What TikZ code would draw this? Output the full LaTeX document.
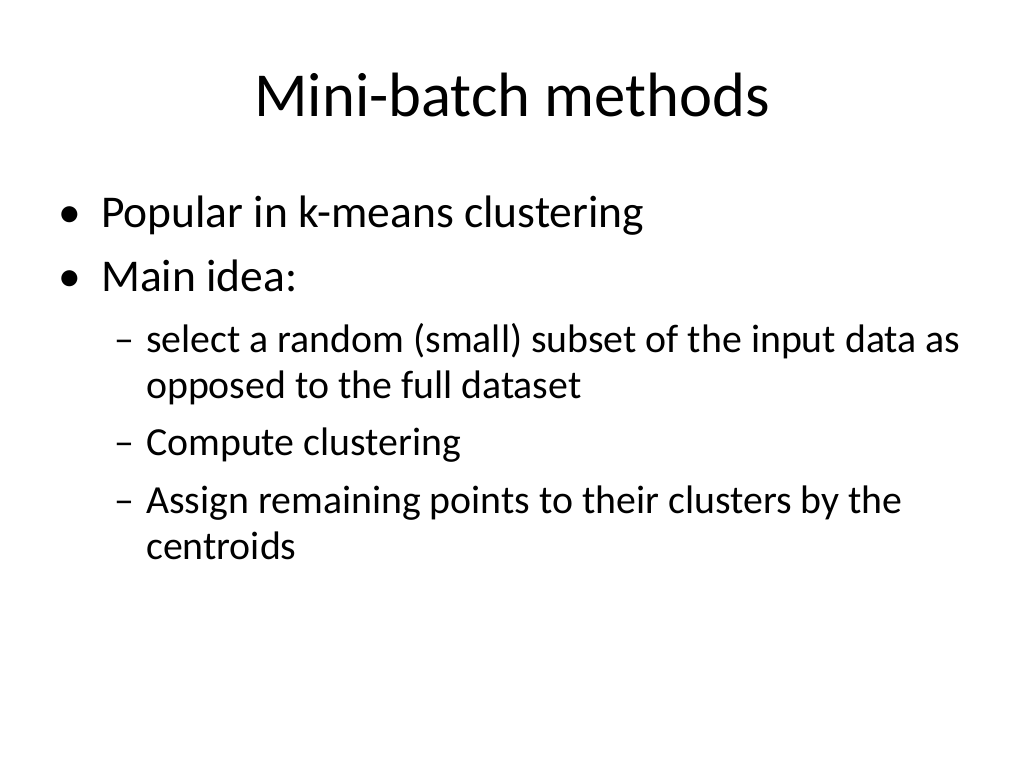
\documentclass[tikz,border=0pt]{standalone}
\usepackage{fontspec}
\setmainfont{Carlito}
\begin{document}
\begin{tikzpicture}[x=1pt,y=-1pt,
  ttl/.style={font=\fontsize{62.6}{70}\selectfont, anchor=base, inner sep=0},
  lone/.style={font=\fontsize{45.5}{50}\selectfont, anchor=base west, inner sep=0},
  ltwo/.style={font=\fontsize{39.8}{46}\selectfont, anchor=base west, inner sep=0}]
\useasboundingbox (0,0) rectangle (1024,768);
\node[ttl] (title) at (512,116) {Mini-batch methods};
\node[lone] (b1) at (58,227) {•};
\node[lone] (t1) at (101,227) {Popular in k-means clustering};
\node[lone] (b2) at (58,291) {•};
\node[lone] (t2) at (101,291) {Main idea:};
\node[ltwo] (d1) at (114,352) {–};
\node[ltwo] (s1) at (146,352) {select a random (small) subset of the input data as};
\node[ltwo] (s1b) at (146,398) {opposed to the full dataset};
\node[ltwo] (d2) at (114,455) {–};
\node[ltwo] (s2) at (146,455) {Compute clustering};
\node[ltwo] (d3) at (114,513) {–};
\node[ltwo] (s3) at (146,513) {Assign remaining points to their clusters by the};
\node[ltwo] (s3b) at (146,559) {centroids};
\end{tikzpicture}
\end{document}
